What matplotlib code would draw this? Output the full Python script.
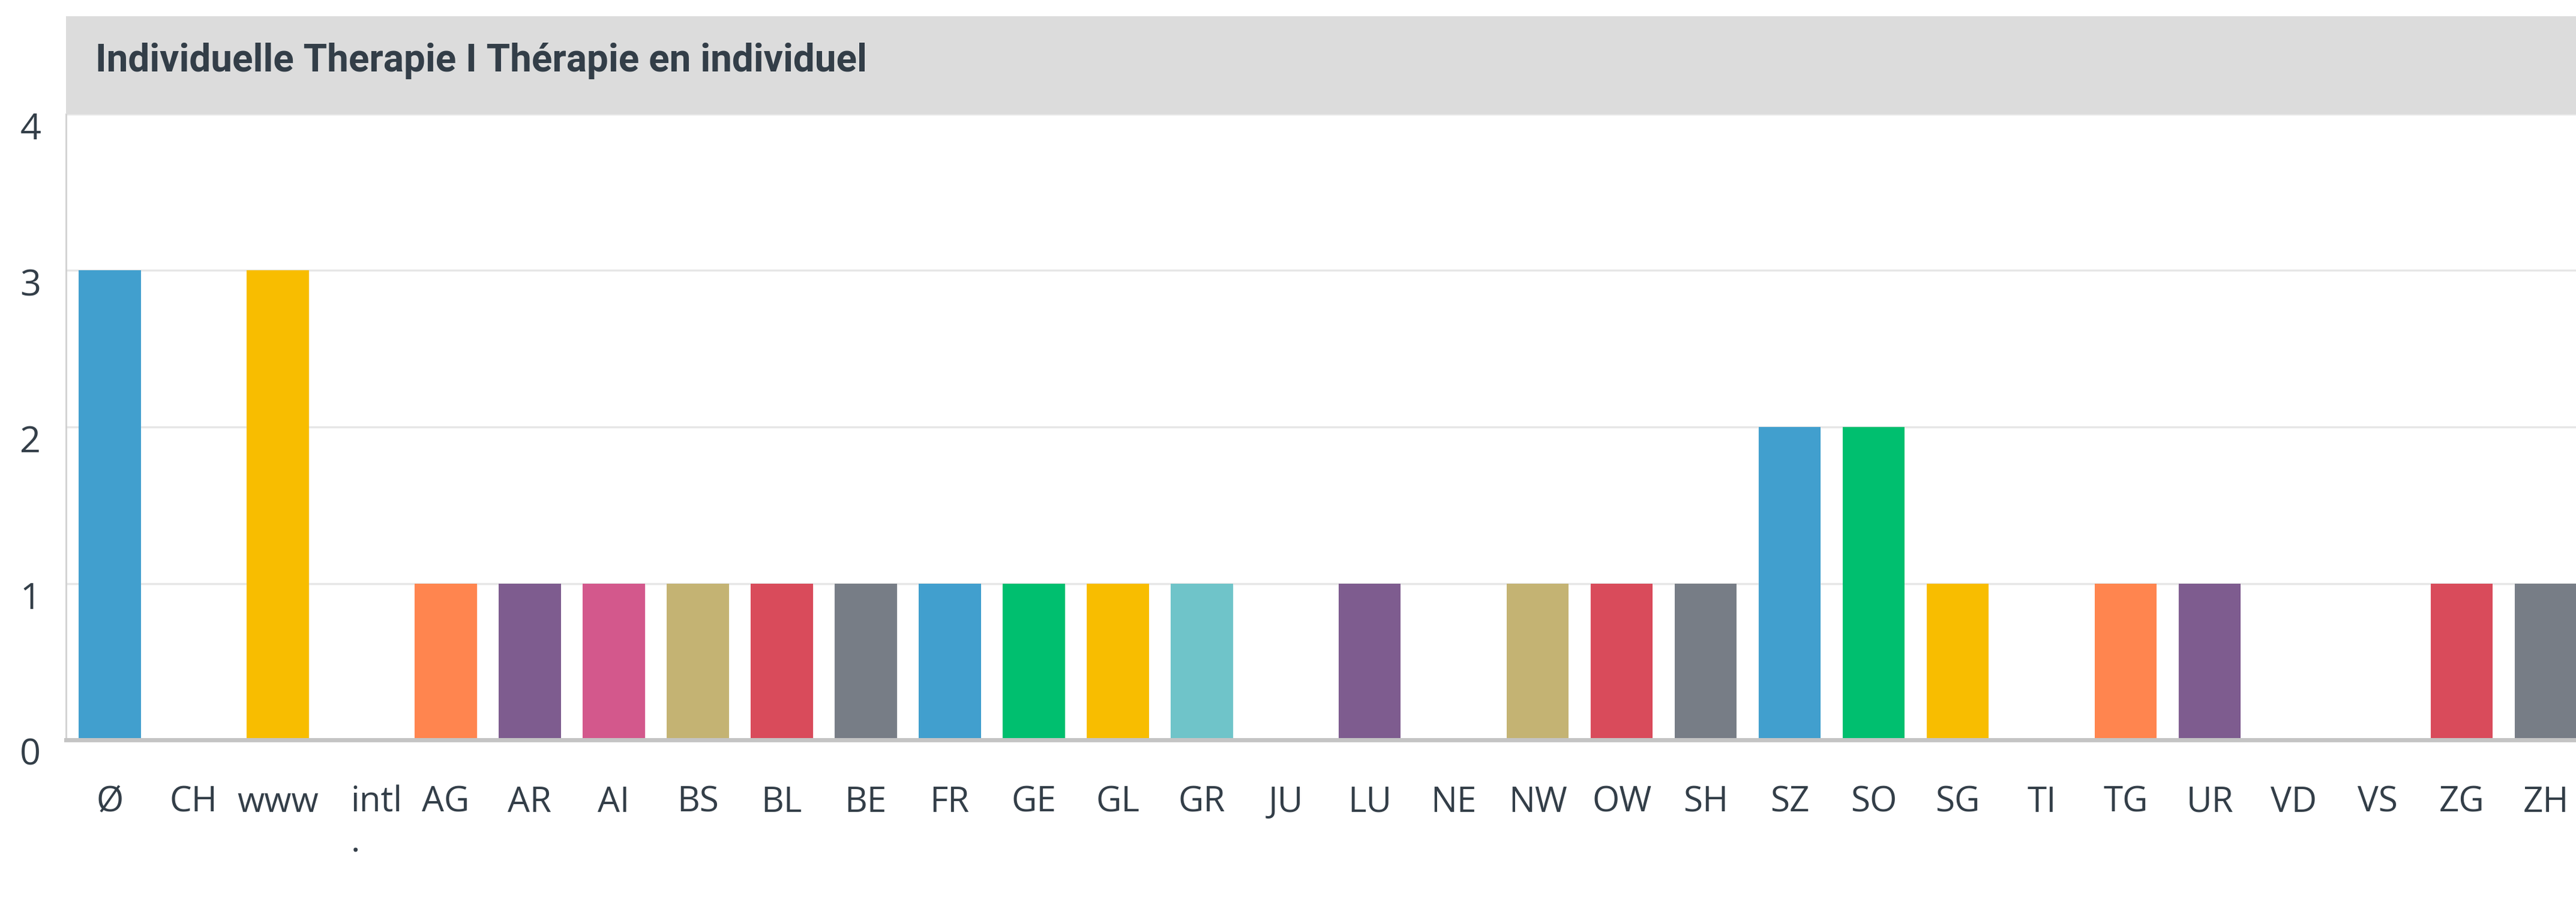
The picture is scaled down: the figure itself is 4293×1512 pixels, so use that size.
import matplotlib.pyplot as plt
from matplotlib.patches import Rectangle
from matplotlib.transforms import offset_copy

# data
cantons = ["Ø", "CH", "www", "intl\n.", "AG", "AR", "AI", "BS", "BL", "BE",
           "FR", "GE", "GL", "GR", "JU", "LU", "NE", "NW", "OW", "SH",
           "SZ", "SO", "SG", "TI", "TG", "UR", "VD", "VS", "ZG", "ZH"]
counts = [3, 0, 3, 0, 1, 1, 1, 1, 1, 1,
          1, 1, 1, 1, 0, 1, 0, 1, 1, 1,
          2, 2, 1, 0, 1, 1, 0, 0, 1, 1]
palette = ["#419fce", "#00bf6f", "#f8bd00", "#6fc4c9", "#ff854f",
           "#7e5c8f", "#d3588c", "#c4b373", "#d94b5b", "#777d86"]
title = "Individuelle Therapie I Thérapie en individuel"

W, H = 4293, 1512
fig = plt.figure(figsize=(W / 100, H / 100), dpi=100)

# grey title strip
fig.patches.append(Rectangle((110 / W, (H - 190) / H), 1 - 110 / W, 163 / H,
                             transform=fig.transFigure, facecolor="#dcdcdc",
                             edgecolor="none", zorder=0))
fig.text(159 / W, (H - 101) / H, title, fontsize=46, fontweight="bold",
         family="Roboto", color="#333e48", va="center", ha="left")

ax = fig.add_axes([110 / W, (H - 1232) / H, 1 - 110 / W, (1232 - 190) / H])
x = range(len(cantons))
colors = [palette[i % len(palette)] for i in x]
ax.bar(x, counts, width=0.74, color=colors, zorder=3)

ax.set_xlim(-0.52, 29.36)
ax.set_ylim(0, 4)
ax.set_yticks([0, 1, 2, 3, 4])
ax.grid(axis="y", color="#e6e6e6", lw=2.5, zorder=0)
ax.set_axisbelow(True)

for s in ["top", "right"]:
    ax.spines[s].set_visible(False)
ax.spines["left"].set_color("#d0d0d0")
ax.spines["left"].set_linewidth(2)
ax.spines["bottom"].set_color("#c4c4c4")
ax.spines["bottom"].set_linewidth(5)
ax.spines["bottom"].set_zorder(4)

ax.set_xticks(list(x))
ax.set_xticklabels(cantons, family="Open Sans", fontsize=42, color="#333e48",
                   multialignment="left")
ax.tick_params(axis="x", length=0, pad=54)
ax.tick_params(axis="y", length=0, pad=30, labelsize=44, labelcolor="#333e48")
for lab in ax.get_yticklabels():
    lab.set_family("Open Sans")
    lab.set_transform(offset_copy(lab.get_transform(), fig=fig, y=-19, units="dots"))
# the wrapped "intl." label sits a little right of its bar
lab = ax.get_xticklabels()[3]
lab.set_transform(offset_copy(lab.get_transform(), fig=fig, x=25, units="dots"))

fig.savefig("out.png", dpi=100)
